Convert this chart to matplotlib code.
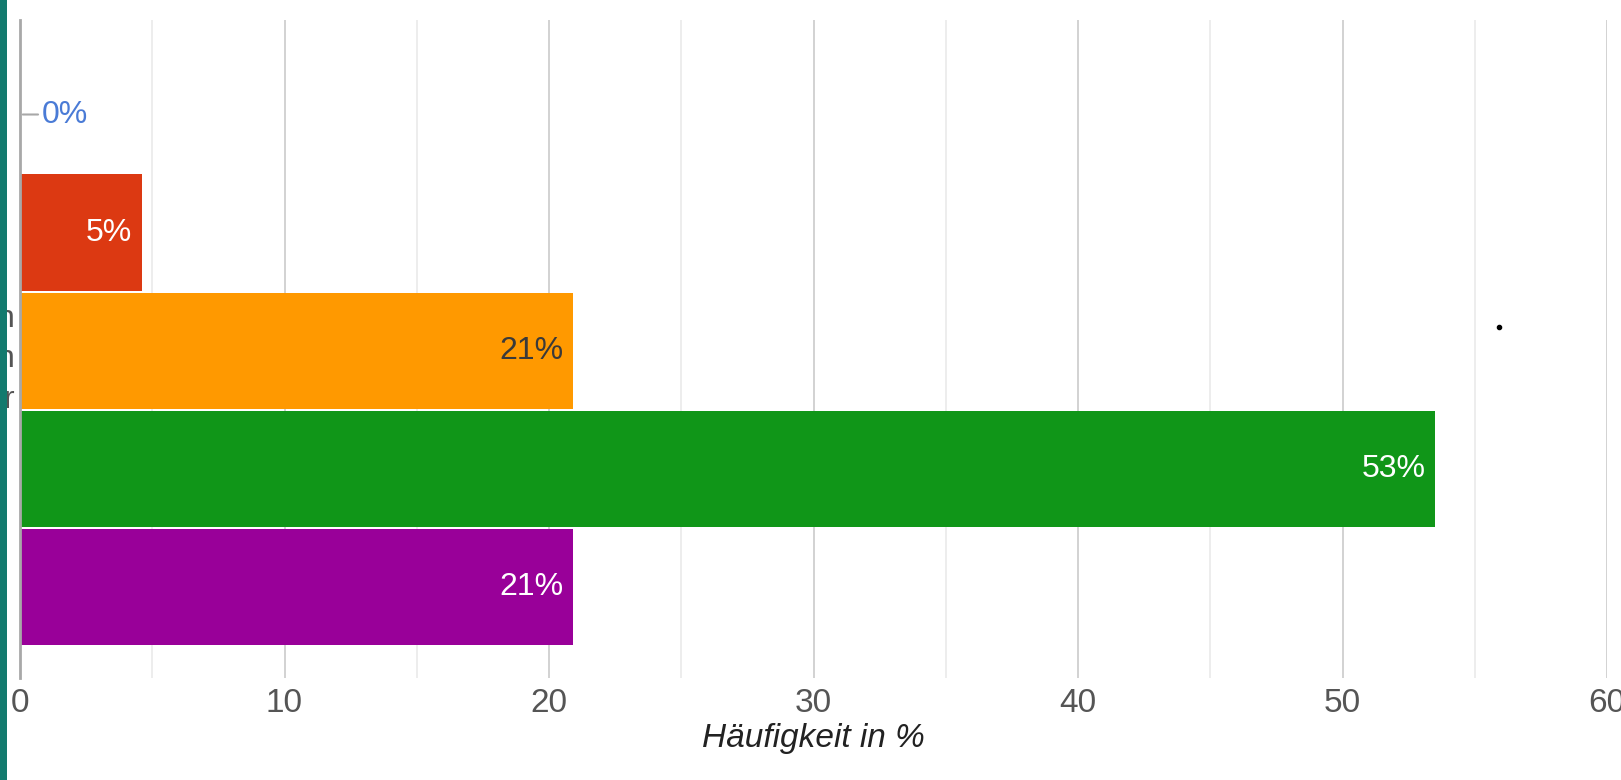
import matplotlib.pyplot as plt
from matplotlib.patches import Rectangle
from matplotlib.lines import Line2D

plt.rcParams['font.family'] = ['Liberation Sans', 'DejaVu Sans']

# values (percent)
values = [0.0, 4.6, 20.9, 53.5, 20.9]
labels = ['0%', '5%', '21%', '53%', '21%']
colors = ['#3366cc', '#dc3912', '#ff9900', '#109618', '#990099']
label_colors = ['#4a7bd6', 'white', '#3a3a3a', 'white', 'white']
# only the tail of the category labels is visible in the cropped screenshot
cat_labels = ['', '', 'n\nn\nr', '', '']
xticks = [0, 10, 20, 30, 40, 50, 60]

W, H = 1621, 780
fig = plt.figure(figsize=(W / 100, H / 100), dpi=100)
ax = fig.add_axes([20 / W, 1 - 678 / H, 1587 / W, 658 / H])

pos = list(range(len(values)))
ax.barh(pos, values, height=0.985, color=colors, zorder=3)

ax.set_xlim(0, 60)
ax.set_ylim(4.77, -0.8)

ax.set_xticks(xticks)
ax.set_xticks([5, 15, 25, 35, 45, 55], minor=True)
ax.grid(axis='x', which='major', color='#cfcfcf', linewidth=1.3, zorder=0)
ax.grid(axis='x', which='minor', color='#ececec', linewidth=1.3, zorder=0)
ax.tick_params(axis='x', which='both', length=0, pad=7, labelsize=24, labelcolor='#555555')
ax.set_yticks(pos)
ax.set_yticklabels(cat_labels, fontsize=23, color='#555555', linespacing=1.45)
ax.tick_params(axis='y', length=0, pad=4)

for s in ['top', 'right', 'bottom']:
    ax.spines[s].set_visible(False)
ax.spines['left'].set_color('#a8a8a8')
ax.spines['left'].set_linewidth(2)
ax.spines['left'].set_zorder(4)

ax.set_xlabel('Häufigkeit in %', fontsize=24, style='italic', color='#222222', labelpad=3)

# value labels
for i, (v, lab, lc) in enumerate(zip(values, labels, label_colors)):
    if v == 0:
        ax.annotate('', xy=(0, i), xytext=(15, 0), textcoords='offset points',
                    arrowprops=dict(arrowstyle='-', color='#a8a8a8', lw=1.5))
        ax.annotate(lab, xy=(0, i), xytext=(15.5, 0), textcoords='offset points',
                    ha='left', va='center', fontsize=23, color=lc)
    else:
        ax.annotate(lab, xy=(v, i), xytext=(-7, 0), textcoords='offset points',
                    ha='right', va='center', fontsize=23, color=lc, zorder=5)

# teal border strip at the left edge of the screenshot
fig.add_artist(Rectangle((0, 0), 7 / W, 1, transform=fig.transFigure,
                         facecolor='#137a6e', edgecolor='none', zorder=10))
# small stray dot in the screenshot
fig.add_artist(Line2D([1499 / W], [1 - 327 / H], transform=fig.transFigure,
                      marker='o', markersize=3, color='black', linestyle='none'))

fig.savefig('out.png', dpi=100)
